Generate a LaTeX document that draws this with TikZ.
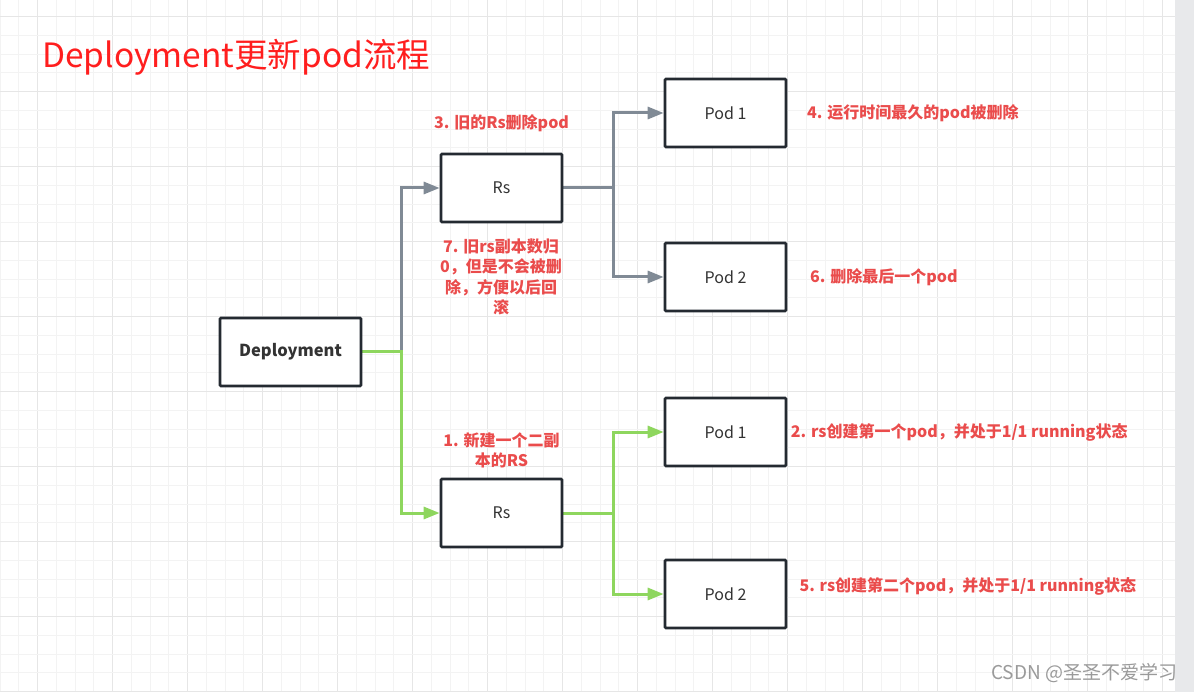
\documentclass[tikz,border=0pt]{standalone}
\usepackage{fontspec}
\setmainfont{Noto Sans CJK SC}
\usetikzlibrary{arrows.meta}
\pgfdeclarelayer{gridlayer}
\pgfdeclarelayer{connlayer}
\pgfsetlayers{gridlayer,connlayer,main}
\definecolor{gridminor}{HTML}{F3F3F3}
\definecolor{gridmajor}{HTML}{E6E6E6}
\definecolor{boxline}{HTML}{242A31}
\definecolor{conngray}{HTML}{808A95}
\definecolor{conngreen}{HTML}{8ED65E}
\definecolor{labelred}{HTML}{EA4C4C}
\definecolor{titlered}{HTML}{FF1E1E}
\definecolor{sidebar}{HTML}{E8E9EB}
\definecolor{wmgray}{HTML}{9A9A9A}
\definecolor{nodetext}{HTML}{333333}
\begin{document}
\begin{tikzpicture}[x=1pt,y=-1pt,
  box/.style={draw=boxline,line width=2.7pt,fill=white,minimum width=121pt,minimum height=68pt,inner sep=0pt,font=\fontsize{16}{19}\selectfont,text=nodetext,rounded corners=1pt},
  conn/.style={line width=3pt,-{Triangle[length=16pt,width=12pt]}},
  grayconn/.style={conn,draw=conngray},
  greenconn/.style={conn,draw=conngreen},
  lbl/.style={inner sep=0pt,text=labelred,font=\fontsize{16}{20.5}\selectfont\bfseries},
  minorline/.style={draw=gridminor,line width=1pt},
  majorline/.style={draw=gridmajor,line width=1.3pt}
]
\useasboundingbox (0,0) rectangle (1194,692);
\begin{pgfonlayer}{gridlayer}
\fill[white] (0,0) rectangle (1194,692);
\foreach \k in {0,...,62}{
  \pgfmathtruncatemacro{\m}{mod(\k,4)}
  \ifnum\m=2
    \draw[majorline] (18.75*\k,0) -- (18.75*\k,692);
  \else
    \draw[minorline] (18.75*\k,0) -- (18.75*\k,692);
  \fi
}
\foreach \k in {0,...,36}{
  \pgfmathtruncatemacro{\m}{mod(\k,4)}
  \ifnum\m=0
    \draw[majorline] (0,16.7+18.75*\k) -- (1175,16.7+18.75*\k);
  \else
    \draw[minorline] (0,16.7+18.75*\k) -- (1175,16.7+18.75*\k);
  \fi
}
\fill[sidebar] (1175,0) rectangle (1194,692);
\end{pgfonlayer}

% title
\node[anchor=west,inner sep=0pt,text=titlered,font=\fontsize{33.5}{40}\selectfont] (title) at (42,57.5) {Deployment更新pod流程};

% nodes
\node[box,minimum width=141pt,font=\fontsize{16.5}{19}\selectfont\bfseries] (dep) at (290.5,352) {Deployment};
\node[box] (rsA) at (501.5,188) {Rs};
\node[box] (podA1) at (725.5,113) {Pod 1};
\node[box] (podA2) at (725.5,277) {Pod 2};
\node[box] (rsB) at (501.5,513) {Rs};
\node[box] (podB1) at (725.5,432) {Pod 1};
\node[box] (podB2) at (725.5,594) {Pod 2};

\coordinate (j1) at (401,0);
\coordinate (j2) at (613,0);

% connectors
\begin{pgfonlayer}{connlayer}
\draw[grayconn] (dep.east) -- (dep.east -| j1) |- (rsA.west);
\draw[greenconn] (dep.east) -- (dep.east -| j1) |- (rsB.west);
\draw[grayconn] (rsA.east) -- (rsA.east -| j2) |- (podA1.west);
\draw[grayconn] (rsA.east) -- (rsA.east -| j2) |- (podA2.west);
\draw[greenconn] (rsB.east) -- (rsB.east -| j2) |- (podB1.west);
\draw[greenconn] (rsB.east) -- (rsB.east -| j2) |- (podB2.west);
\end{pgfonlayer}

% labels
\node[lbl] (l3) at (501.5,122.7) {3. 旧的Rs删除pod};
\node[lbl,align=center] (l7) at (501,277) {7. 旧rs副本数归\\0，但是不会被删\\除，方便以后回\\滚};
\node[lbl,align=center] (l1) at (501.5,450.5) {1. 新建一个二副\\本的RS};
\node[lbl,anchor=west] (l4) at (807,113.3) {4. 运行时间最久的pod被删除};
\node[lbl,anchor=west] (l6) at (810,277.3) {6. 删除最后一个pod};
\node[lbl,anchor=west] (l2) at (790.7,432.7) {2. rs创建第一个pod，并处于1/1 running状态};
\node[lbl,anchor=west] (l5) at (799.3,586.7) {5. rs创建第二个pod，并处于1/1 running状态};

% watermark
\node[anchor=west,inner sep=0pt,text=wmgray,font=\fontsize{19}{22}\selectfont] (wm) at (991,673) {CSDN @圣圣不爱学习};
\end{tikzpicture}
\end{document}
